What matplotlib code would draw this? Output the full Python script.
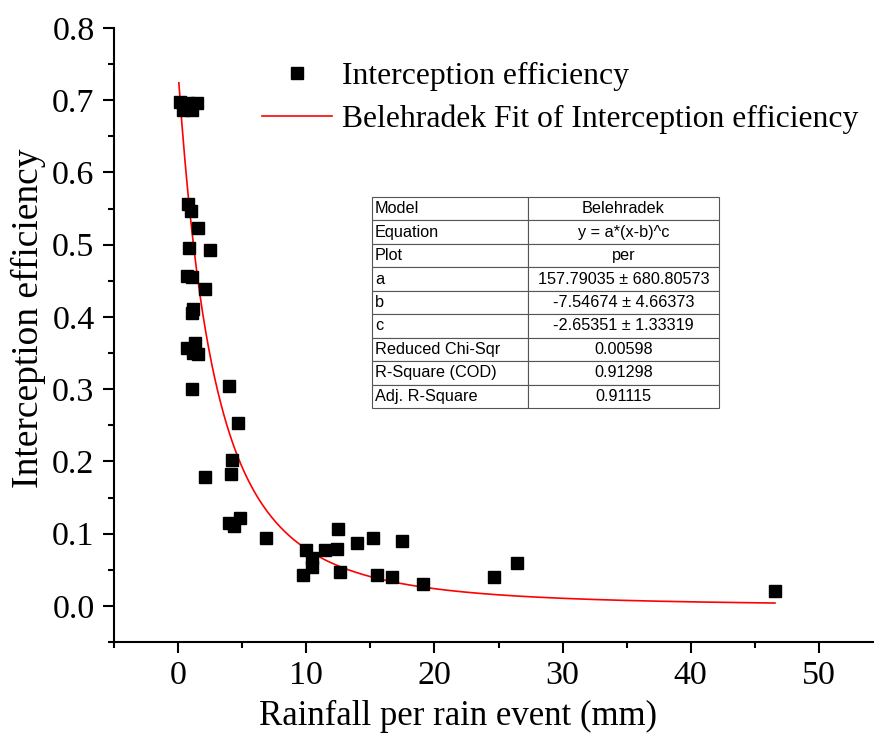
import numpy as np
import matplotlib
matplotlib.use("Agg")
import matplotlib.pyplot as plt
from matplotlib.ticker import MultipleLocator, FormatStrFormatter

# rainfall per event (mm) and interception efficiency
rainfall = [0.16, 0.78, 1.48, 0.39, 1.09, 0.78, 1.01, 1.56, 0.86, 2.50,
            0.70, 1.09, 2.11, 1.17, 1.09, 1.33, 0.70, 1.17, 1.56, 1.09,
            3.98, 4.68, 4.21, 4.13, 2.11, 3.98, 4.37, 4.84, 6.86, 12.48,
            9.98, 11.47, 12.40, 13.96, 15.21, 17.47, 10.45, 10.45, 9.75, 12.64,
            15.52, 16.69, 19.11, 24.65, 26.44, 46.57]
efficiency = [0.698, 0.696, 0.696, 0.686, 0.686, 0.557, 0.546, 0.523, 0.495, 0.492,
              0.456, 0.455, 0.438, 0.411, 0.405, 0.364, 0.357, 0.350, 0.349, 0.300,
              0.304, 0.253, 0.202, 0.183, 0.178, 0.115, 0.111, 0.122, 0.094, 0.107,
              0.077, 0.077, 0.079, 0.087, 0.094, 0.090, 0.066, 0.054, 0.043, 0.047,
              0.043, 0.040, 0.030, 0.040, 0.059, 0.021]

# Belehradek fit parameters as printed in the table
fit_a, fit_a_err = 157.79035, 680.80573
fit_b, fit_b_err = -7.54674, 4.66373
fit_c, fit_c_err = -2.65351, 1.33319
chi_sqr = 0.00598
r_square = 0.91298
adj_r_square = 0.91115

table_rows = [
    ["Model", "Belehradek"],
    ["Equation", "y = a*(x-b)^c"],
    ["Plot", "per"],
    ["a", f"{fit_a:.5f} \u00b1 {fit_a_err:.5f}"],
    ["b", f"{fit_b:.5f} \u00b1 {fit_b_err:.5f}"],
    ["c", f"{fit_c:.5f} \u00b1 {fit_c_err:.5f}"],
    ["Reduced Chi-Sqr", f"{chi_sqr:.5f}"],
    ["R-Square (COD)", f"{r_square:.5f}"],
    ["Adj. R-Square", f"{adj_r_square:.5f}"],
]

plt.rcParams["font.family"] = ["Liberation Serif", "DejaVu Serif"]

fig = plt.figure(figsize=(8.74, 7.35), dpi=100)
ax = fig.add_axes([114 / 874, 93 / 735, 769 / 874, 614 / 735])

ax.plot(rainfall, efficiency, "s", color="black", markersize=8.5,
        label="Interception efficiency", zorder=3)

x_fit = np.linspace(min(rainfall) - 0.1, max(rainfall), 400)
y_fit = fit_a * (x_fit - fit_b) ** fit_c
ax.plot(x_fit, y_fit, color="red", linewidth=1.2,
        label="Belehradek Fit of Interception efficiency", zorder=2)

ax.set_xlim(-5, 55)
ax.set_ylim(-0.05, 0.8)
ax.xaxis.set_major_locator(MultipleLocator(10))
ax.xaxis.set_minor_locator(MultipleLocator(5))
ax.yaxis.set_major_locator(MultipleLocator(0.1))
ax.yaxis.set_minor_locator(MultipleLocator(0.05))
ax.yaxis.set_major_formatter(FormatStrFormatter("%.1f"))

for side in ("top", "right"):
    ax.spines[side].set_visible(False)
for side in ("left", "bottom"):
    ax.spines[side].set_linewidth(1.5)
ax.tick_params(which="major", direction="out", length=8, width=1.5, labelsize=24.5)
ax.tick_params(axis="x", which="major", pad=5)
ax.tick_params(axis="y", which="major", pad=6)
ax.tick_params(which="minor", direction="out", length=4, width=1.5)

ax.set_xlabel("Rainfall per rain event (mm)", fontsize=25)
ax.set_ylabel("Interception efficiency", fontsize=27)
ax.xaxis.set_label_coords(0.447, -0.094)
ax.yaxis.set_label_coords(-0.089, 0.528)

ax.legend(loc="upper left", bbox_to_anchor=(262 / 874, 1 - 62 / 735),
          bbox_transform=fig.transFigure, frameon=False, fontsize=22.8,
          handlelength=2.2, handletextpad=0.32, labelspacing=0.42,
          borderpad=0, borderaxespad=0)

x0, x1 = 372 / 874, 719 / 874
y0, y1 = 1 - 408 / 735, 1 - 197 / 735
tbl = ax.table(cellText=table_rows, colWidths=[156 / 347, 191 / 347],
               bbox=[x0, y0, x1 - x0, y1 - y0], transform=fig.transFigure)
tbl.auto_set_font_size(False)
tbl.set_fontsize(11.7)
for (r, col), cell in tbl.get_celld().items():
    cell.set_edgecolor("#555555")
    cell.set_linewidth(0.8)
    cell.get_text().set_fontfamily("Liberation Sans")
    cell.get_text().set_ha("left" if col == 0 else "center")
    cell.PAD = 0.02

fig.savefig("out.png", dpi=100)
